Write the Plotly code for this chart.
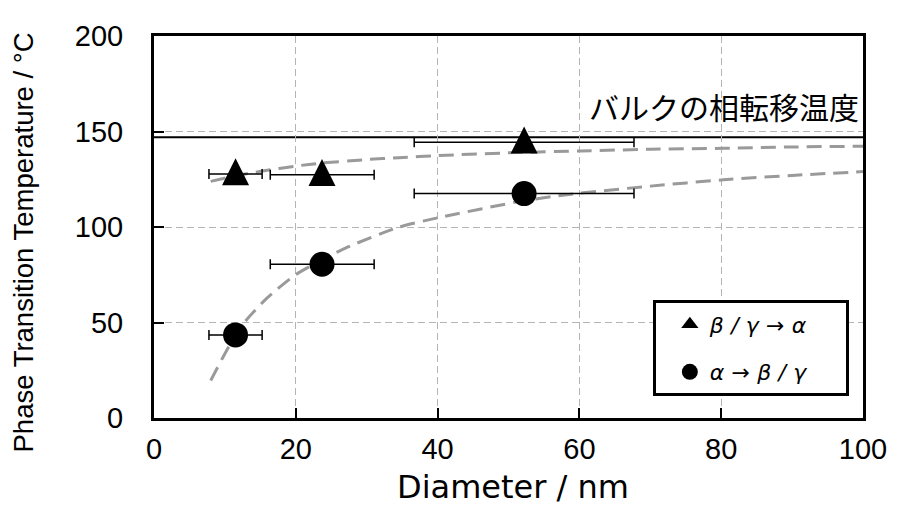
import plotly.graph_objects as go

# ---- data ----
diameters = [11.5, 23.7, 52.2]            # nm
diam_err_minus = [3.75, 7.3, 15.5]
diam_err_plus = [3.75, 7.35, 15.5]
temp_beta_gamma_to_alpha = [127.8, 127.4, 144.4]   # triangles
temp_alpha_to_beta_gamma = [43.5, 80.5, 117.5]     # circles
bulk_temp = 147.0
bulk_label = "バルクの相転移温度"

upper_fit_x = [8, 11.5, 15.3, 20, 23.7, 30, 34.5, 40, 52.2, 60.2, 70, 80.3, 90, 100]
upper_fit_y = [123.9, 126.8, 129.3, 131.9, 133.5, 135.3, 136.3, 137.4, 139.1, 139.8, 140.7, 141.2, 141.9, 142.3]
lower_fit_x = [8, 10.7, 13, 16, 20, 23.7, 27, 34.5, 40, 52.2, 58.8, 70, 80.3, 90, 100]
lower_fit_y = [19.6, 38.4, 51.2, 63.0, 75.1, 82.8, 89.0, 99.9, 104.8, 113.8, 117.2, 121.4, 124.7, 127.0, 129.0]

x_ticks = [0, 20, 40, 60, 80, 100]
y_ticks = [0, 50, 100, 150, 200]
sp = "\u2004"
name_tri = "<i>β" + sp + "/" + sp + "γ" + sp + "→" + sp + "α</i>\u2003\u2002"
name_cir = "<i>α" + sp + "→" + sp + "β" + sp + "/" + sp + "γ</i>\u2003\u2002"

fig = go.Figure()

curve_style = dict(color="#9a9a9a", width=3, dash="15px,8px", shape="spline", smoothing=0.6)
fig.add_trace(go.Scatter(x=upper_fit_x, y=upper_fit_y, mode="lines", line=curve_style,
                         showlegend=False, hoverinfo="skip"))
fig.add_trace(go.Scatter(x=lower_fit_x, y=lower_fit_y, mode="lines", line=curve_style,
                         showlegend=False, hoverinfo="skip"))

err = dict(type="data", symmetric=False, array=diam_err_plus, arrayminus=diam_err_minus,
           color="black", thickness=1.5, width=5)

# legend stand-in for triangles
fig.add_trace(go.Scatter(x=[None], y=[None], mode="markers", name=name_tri, legendgroup="tri",
                         marker=dict(symbol="triangle-up", size=15, color="black")))
# triangles (data)
fig.add_trace(go.Scatter(x=diameters, y=temp_beta_gamma_to_alpha, mode="markers",
                         legendgroup="tri", showlegend=False, error_x=err,
                         marker=dict(symbol="arrow-down", angle=180, standoff=15.7,
                                     size=27, color="black", line=dict(width=0))))
# circles
fig.add_trace(go.Scatter(x=diameters, y=temp_alpha_to_beta_gamma, mode="markers",
                         name=name_cir, legendgroup="cir", error_x=err,
                         marker=dict(symbol="circle", size=25, color="black")))

fig.add_hline(y=bulk_temp, line=dict(color="black", width=2), layer="below")

fig.add_annotation(text=bulk_label, xref="paper", yref="paper", x=0.9973, y=0.816,
                   xanchor="right", yanchor="middle", showarrow=False,
                   font=dict(family="Noto Sans CJK JP", size=30, color="black"))
fig.add_annotation(text="Diameter / nm", xref="paper", yref="paper", x=0.506, y=-0.1795,
                   xanchor="center", yanchor="middle", showarrow=False,
                   font=dict(family="DejaVu Sans", size=32, color="black"))
fig.add_annotation(text="Phase Transition Temperature / °C", xref="paper", yref="paper",
                   x=-0.1836, y=0.459, xanchor="center", yanchor="middle", textangle=-90,
                   showarrow=False, font=dict(family="Liberation Sans", size=27.5, color="black"))

axis_common = dict(showline=True, mirror=True, linecolor="black", linewidth=3,
                   ticks="inside", ticklen=10, tickwidth=2, tickcolor="black",
                   showgrid=True, gridcolor="#b4b4b4", gridwidth=1, griddash="7px,4px",
                   zeroline=False,
                   tickfont=dict(family="Liberation Sans", size=29, color="black"))

fig.update_xaxes(range=[0, 100], tickvals=x_ticks, ticklabelstandoff=3, **axis_common)
fig.update_yaxes(range=[0, 200], tickvals=y_ticks, ticklabelstandoff=22, **axis_common)

# the page body adds an 8px offset, so the figure is 8px smaller than the window
fig.update_layout(
    width=891, height=499,
    margin=dict(l=146, r=31.5, t=20.5, b=89),
    paper_bgcolor="white", plot_bgcolor="white",
    legend=dict(x=0.7036, y=0.3077, xanchor="left", yanchor="top",
                bordercolor="black", borderwidth=3, bgcolor="white",
                font=dict(family="DejaVu Sans", size=22, color="black"),
                tracegroupgap=16, indentation=14, itemsizing="trace"),
)

fig.write_html("out.html")
